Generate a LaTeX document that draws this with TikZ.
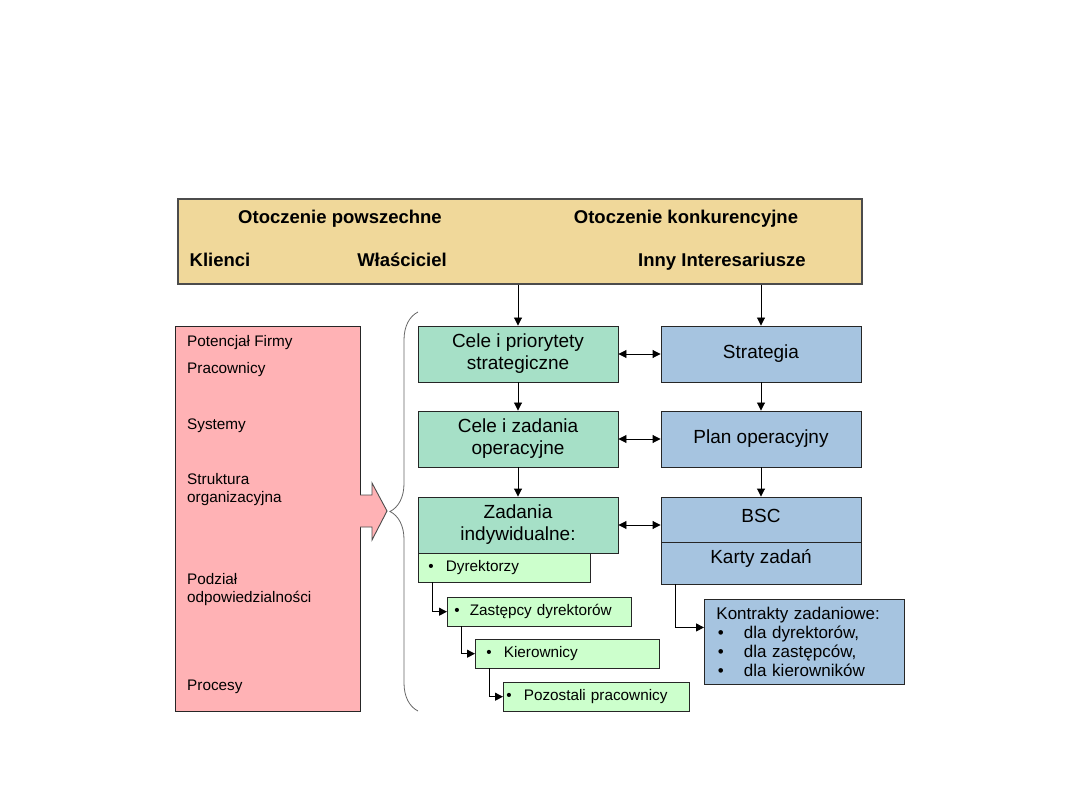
\documentclass[tikz,border=0pt]{standalone}
\usepackage{fontspec}
\setmainfont{Liberation Sans}
\usepackage{xcolor}
\usepackage{tikz}
\usetikzlibrary{arrows.meta,decorations.pathreplacing}
\setlength{\parindent}{0pt}
\definecolor{envtan}{RGB}{240,216,154}
\definecolor{potpink}{RGB}{255,178,181}
\definecolor{goalgreen}{RGB}{166,224,199}
\definecolor{planblue}{RGB}{166,196,224}
\definecolor{taskgreen}{RGB}{204,255,204}
\tikzset{
  box/.style={draw=black!85, line width=0.9pt, minimum width=200pt, minimum height=56pt, align=center, inner sep=2pt, font=\fontsize{19}{22}\selectfont},
  goal/.style={box, fill=goalgreen},
  plan/.style={box, fill=planblue},
  task/.style={draw=black!85, line width=0.9pt, fill=taskgreen, anchor=north west, align=left, minimum height=28.5pt, font=\fontsize{15.3}{18}\selectfont},
  pot/.style={anchor=west, align=left, inner sep=0pt, font=\fontsize{15.3}{18}\selectfont},
  envtext/.style={anchor=base, inner sep=0pt, font=\bfseries\fontsize{18.5}{21}\selectfont},
  arr/.style={-{Triangle[length=8pt,width=8pt]}, line width=0.9pt},
  dbl/.style={{Triangle[length=8pt,width=8pt]}-{Triangle[length=8pt,width=8pt]}, line width=0.9pt},
}
\newcommand{\tb}{\textbullet\hspace{12pt}}

\begin{document}
\begin{tikzpicture}[x=1pt, y=-1pt]
    \useasboundingbox (0,0) rectangle (1080,810);
    % otoczenie
    \node[draw=black!70, line width=1.6pt, fill=envtan, anchor=north west, minimum width=684pt, minimum height=85pt] (env) at (177,198) {};
    \node[envtext] (powsz) at (340,223.5) {Otoczenie powszechne};
    \node[envtext] (konk) at (686,223.5) {Otoczenie konkurencyjne};
    \node[envtext] (klienci) at (220,267) {Klienci};
    \node[envtext] (wlasc) at (402,267) {Właściciel};
    \node[envtext] (inni) at (722,267) {Inny Interesariusze};
    % potencjal firmy
    \node[draw=black!85, line width=0.9pt, fill=potpink, anchor=north west, minimum width=185pt, minimum height=385pt] (pot) at (175,326) {};
    \node[pot] (potencjal) at (187,343) {Potencjał Firmy};
    \node[pot] (pracown) at (187,370) {Pracownicy};
    \node[pot] (systemy) at (187,426) {Systemy};
    \node[pot] (struktura) at (187,490) {Struktura\\organizacyjna};
    \node[pot] (podzial) at (187,590) {Podział\\odpowiedzialności};
    \node[pot] (procesy) at (187,687) {Procesy};
    \draw[draw=black!70, line width=0.9pt, fill=potpink] (360,495) -- (372,495) -- (372,483) -- (387,511) -- (372,540) -- (372,527) -- (360,527);
    \draw[decorate, decoration={brace, amplitude=28pt}, line width=0.8pt, black!60] (418,711) -- (418,312);
    % cele
    \node[goal] (cel1) at (518,354) {Cele i priorytety\\strategiczne};
    \node[goal] (cel2) at (518,439) {Cele i zadania\\operacyjne};
    \node[goal] (cel3) at (518,525) {Zadania\\indywidualne:};
    \node[plan] (strat) at (761,354) {Strategia};
    \node[plan] (oper) at (761,439) {Plan operacyjny};
    \node[plan, minimum height=45pt, text depth=8pt] (bsc) at (761,519.5) {BSC};
    \node[plan, minimum height=42pt, text depth=12pt] (karty) at (761,563) {Karty zadań};
    % zadania
    \node[task, text width=152pt, inner xsep=10pt] (dyr) at (418,553) {\tb Dyrektorzy};
    \node[task, text width=170pt, inner xsep=7pt] (zast) at (447,597) {\textbullet\hspace{10pt}Zastępcy dyrektorów};
    \node[task, text width=162pt, inner xsep=11pt] (kier) at (475,639) {\tb Kierownicy};
    \node[task, text width=180pt, inner xsep=3pt] (pozo) at (503,682) {\tb Pozostali pracownicy};
    \node[draw=black!85, line width=0.9pt, fill=planblue, anchor=north west, text width=176pt, inner xsep=12pt, minimum height=85pt, align=left, font=\fontsize{17}{19.3}\selectfont] (kontr) at (704,599)
        {Kontrakty zadaniowe:\\
         \hspace*{1.5pt}\textbullet\hspace{20pt}dla dyrektorów,\\
         \hspace*{1.5pt}\textbullet\hspace{20pt}dla zastępców,\\
         \hspace*{1.5pt}\textbullet\hspace{20pt}dla kierowników};
    % strzalki
    \draw[arr] (cel1.north |- env.south) -- (cel1);
    \draw[arr] (strat.north |- env.south) -- (strat);
    \draw[arr] (cel1) -- (cel2);
    \draw[arr] (cel2) -- (cel3);
    \draw[arr] (strat) -- (oper);
    \draw[arr] (oper) -- (bsc);
    \draw[dbl] (cel1) -- (strat);
    \draw[dbl] (cel2) -- (oper);
    \draw[dbl] (cel3) -- (cel3 -| bsc.west);
    \draw[arr] ([xshift=14pt]dyr.south west) |- (zast.west);
    \draw[arr] ([xshift=14pt]zast.south west) |- (kier.west);
    \draw[arr] ([xshift=14pt]kier.south west) |- (pozo.west);
    \draw[arr] ([xshift=15pt]karty.south west) |- ([yshift=14.5pt]kontr.west);
\end{tikzpicture}
\end{document}
